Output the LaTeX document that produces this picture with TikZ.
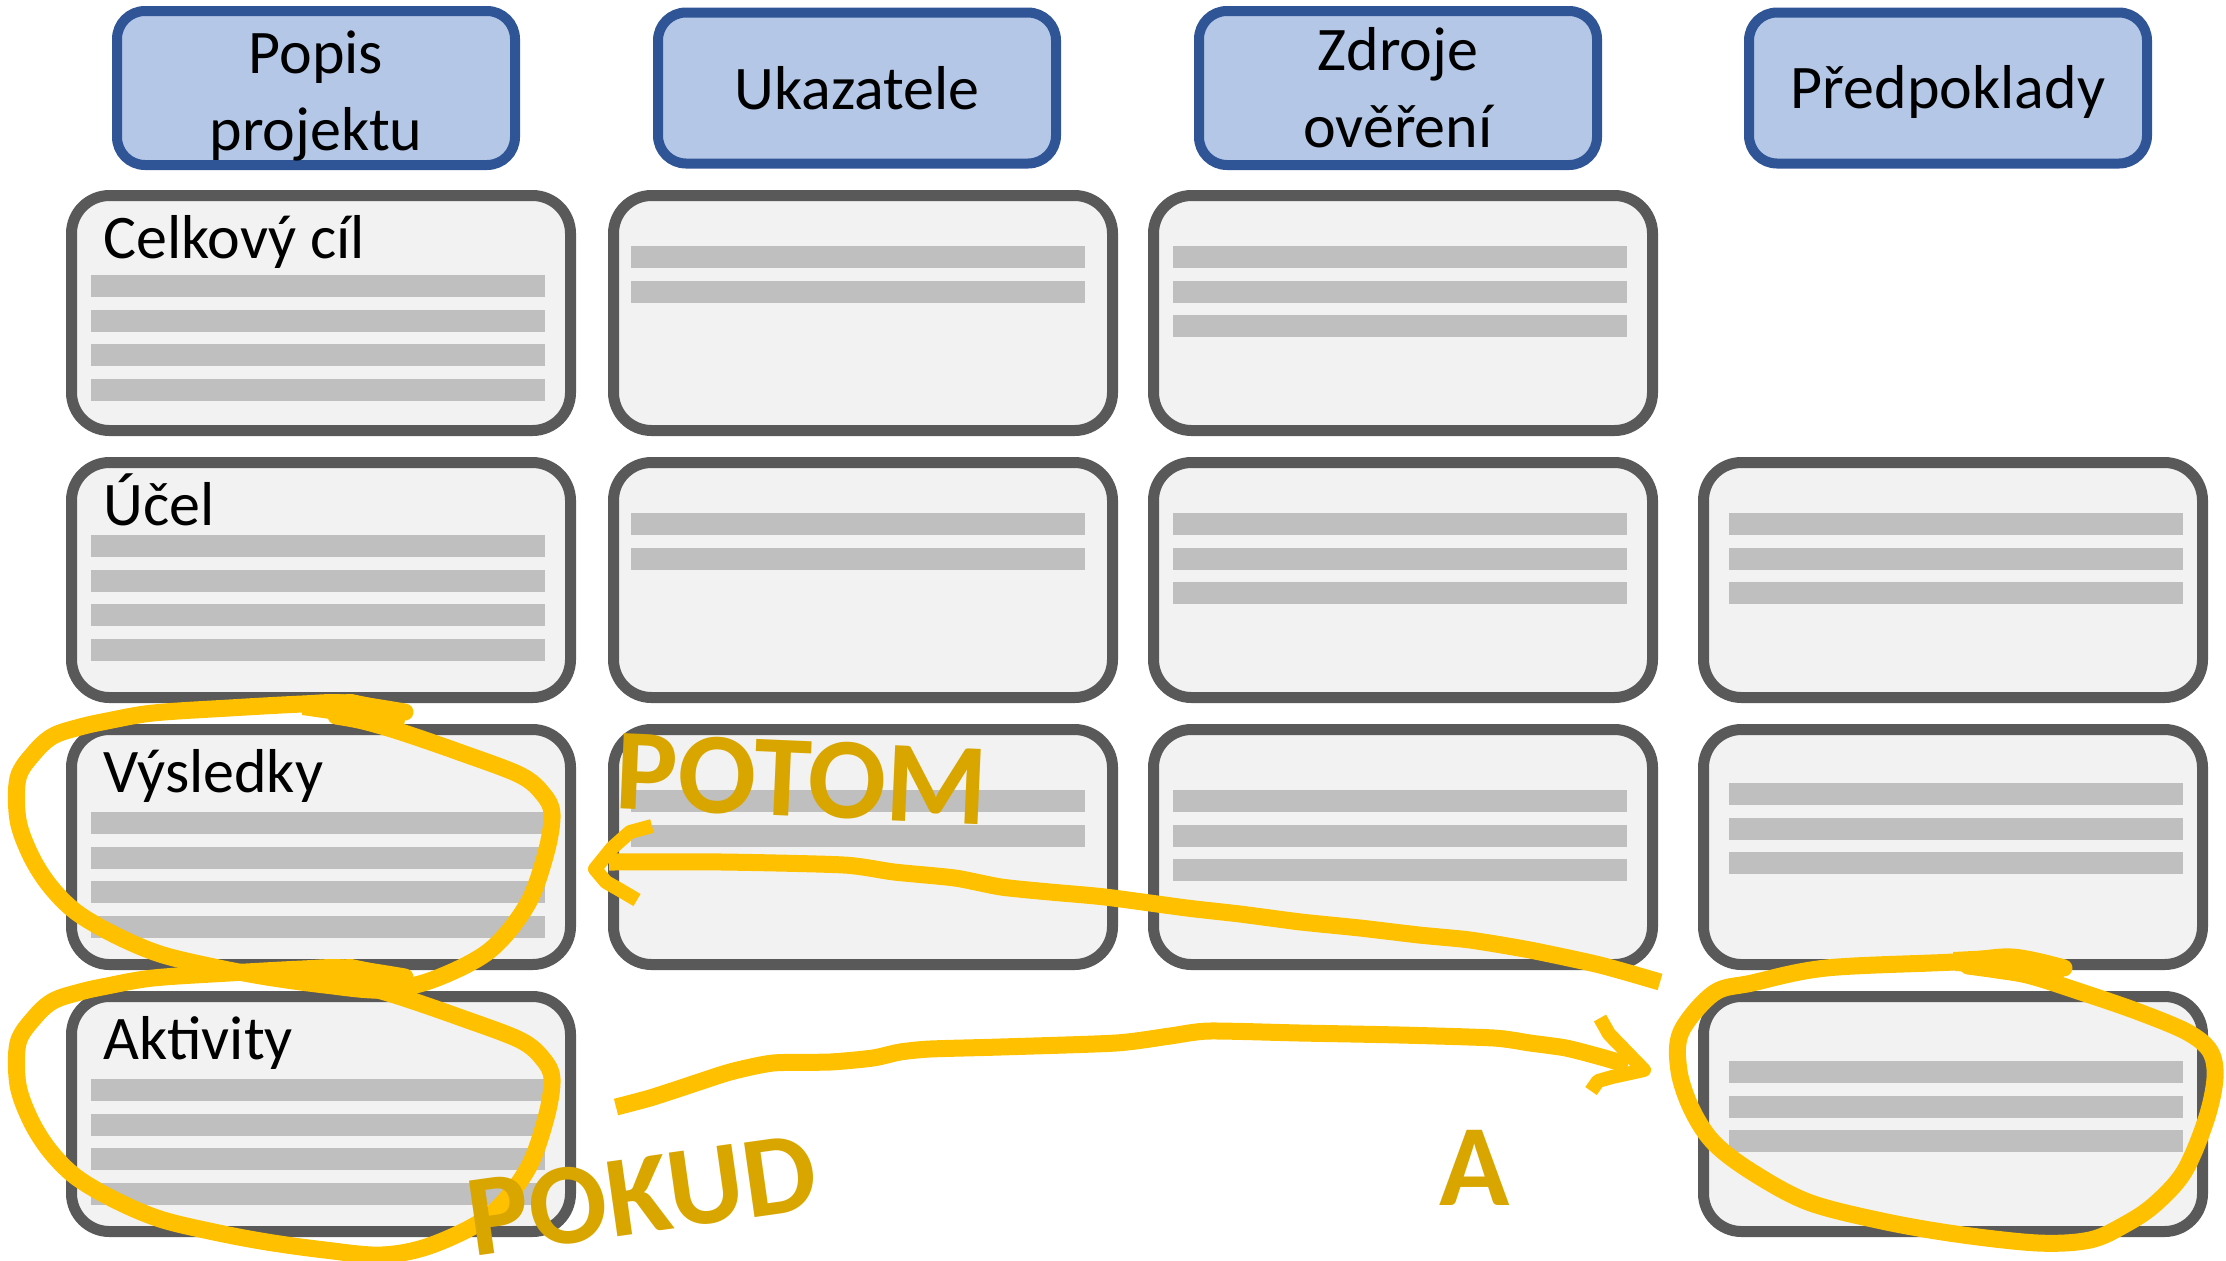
\documentclass[tikz,border=0pt]{standalone}
\usepackage{fontspec}
\setmainfont{Carlito}

\definecolor{hdrfill}{HTML}{B4C7E7}
\definecolor{hdrline}{HTML}{2F5597}
\definecolor{cellfill}{HTML}{F2F2F2}
\definecolor{cellline}{HTML}{595959}
\definecolor{barfill}{HTML}{BFBFBF}
\definecolor{marker}{HTML}{FFC000}
\definecolor{inktext}{HTML}{D9A600}

% a column of grey placeholder bars: left x, top y of first bar, count
\newcommand\barset[3]{\foreach \k in {1,...,#3}{\fill[bar] (#1,{#2+(\k-1)*34.5}) rectangle ++(454,22);}}
% header text, lowered by #1 without changing the box it occupies
\newcommand\hdrlabel[2]{\raisebox{-#1}[\height][\depth]{\begin{tabular}{@{}c@{}}#2\end{tabular}}}

\begin{document}
\begin{tikzpicture}[x=0.5pt,y=-0.5pt,
  hdr/.style={draw=hdrline, fill=hdrfill, line width=5pt, rounded corners=14pt,
    minimum width=199pt, minimum height=75.5pt, inner sep=0pt,
    font=\fontsize{31}{38.5}\selectfont},
  cell/.style={draw=cellline, fill=cellfill, line width=5.5pt, rounded corners=19pt,
    minimum width=249.5pt, minimum height=117.5pt, inner sep=0pt},
  bar/.style={fill=barfill},
  rowlabel/.style={anchor=base west, inner sep=0pt, font=\fontsize{31}{38}\selectfont},
  ink/.style={draw=marker, line width=8.5pt, line cap=round, line join=round},
  inkhead/.style={draw=marker, line width=7pt, line cap=butt, line join=round},
  inkword/.style={text=inktext, inner sep=0pt, font=\fontsize{58}{60}\selectfont\bfseries}]

\useasboundingbox (0,0) rectangle (2226,1260);

% column headers
\node[hdr] (h1) at (316,88) {\hdrlabel{4.5pt}{Popis\\projektu}};
\node[hdr] (h2) at (857,88) {\hdrlabel{3pt}{Ukazatele}};
\node[hdr] (h3) at (1398,88) {\hdrlabel{3pt}{Zdroje\\ověření}};
\node[hdr] (h4) at (1948,88) {\hdrlabel{2.7pt}{Předpoklady}};

% matrix cells (columns 1-4, rows 1-4)
\node[cell] (c11) at (321,313) {};
\node[cell] (c21) at (863,313) {};
\node[cell] (c31) at (1403,313) {};
\node[cell] (c12) at (321,580) {};
\node[cell] (c22) at (863,580) {};
\node[cell] (c32) at (1403,580) {};
\node[cell] (c42) at (1953,580) {};
\node[cell] (c13) at (321,847) {};
\node[cell] (c23) at (863,847) {};
\node[cell] (c33) at (1403,847) {};
\node[cell] (c43) at (1953,847) {};
\node[cell] (c14) at (321,1114) {};
\node[cell] (c44) at (1953,1114) {};

% row titles
\node[rowlabel] (t1) at (103,258) {Celkový cíl};
\node[rowlabel] (t2) at (103,525) {Účel};
\node[rowlabel] (t3) at (103,792) {Výsledky};
\node[rowlabel] (t4) at (103,1059) {Aktivity};

% placeholder text bars
\barset{91}{275}{4}
\barset{631}{246}{2}
\barset{1173}{246}{3}
\barset{91}{535}{4}
\barset{631}{513}{2}
\barset{1173}{513}{3}
\barset{1729}{513}{3}
\barset{91}{812}{4}
\barset{631}{790}{2}
\barset{1173}{790}{3}
\barset{1729}{783}{3}
\barset{91}{1079}{4}
\barset{1729}{1061}{3}

% marker loops around Výsledky and Aktivity
\foreach \dy in {0,265}{
\begin{scope}[shift={(0,\dy)}]
  \draw[ink] plot[smooth, tension=0.55] coordinates {
    (405,712) (344,703) (302,704) (229,708) (153,713) (107,721) (80,727)
    (53,736) (34,753) (18,778) (18,820) (31,856) (50,886) (76,912) (115,935)
    (160,954) (214,967) (267,977) (325,985) (382,990) (432,980) (489,951)
    (527,905) (546,853) (552,814) (543,794) (520,775) (459,752) (401,732)
    (363,721) (336,716)};
  \fill[marker] (302,696) -- (352,694) -- (408,706) -- (404,725) -- (344,721) -- (302,715) -- cycle;
\end{scope}}

% marker loop around the last assumption
\draw[ink] plot[smooth, tension=0.55] coordinates {
  (2064,968) (2012,957) (1953,962) (1826,968) (1752,983) (1714,993) (1681,1032)
  (1679,1071) (1692,1110) (1714,1143) (1752,1172) (1808,1202) (1882,1221)
  (1956,1234) (2038,1243) (2090,1240) (2124,1225) (2154,1205) (2184,1172)
  (2206,1120) (2215,1078) (2210,1051) (2187,1032) (2139,1012) (2087,994)
  (2031,976) (1997,970) (1968,966)};
\fill[marker] (1953,952) -- (2012,949) -- (2067,960) -- (2063,980) -- (2005,974) -- (1955,971) -- cycle;

% arrow back to the results
\draw[ink, line cap=butt] plot[smooth, tension=0.4] coordinates {
  (1660,982) (1600,965) (1530,950) (1470,940) (1419,935) (1360,928) (1301,922)
  (1240,914) (1187,908) (1105,897) (1050,892) (1001,887) (955,878) (894,872)
  (844,865) (723,862) (609,862)};
\draw[inkhead] (652,826) -- (630,832) -- (612,848) -- (595,869) -- (606,882) -- (620,890) -- (637,900);

% arrow from the activities to the assumption
\draw[ink, line cap=butt] plot[smooth, tension=0.4] coordinates {
  (616,1107) (650,1098) (687,1086) (730,1072) (773,1063) (830,1062) (873,1058)
  (900,1052) (930,1049) (1000,1047) (1116,1043) (1170,1036) (1209,1031)
  (1300,1033) (1400,1035) (1494,1038) (1530,1043) (1566,1048) (1601,1057)
  (1628,1065)};
\draw[inkhead] (1600,1018) -- (1609,1034) -- (1644,1070) -- (1612,1077) -- (1598,1081) -- (1591,1091);

% handwritten words
\node[inkword, rotate=-2.5] (potom) at (802,779) {POTOM};
\node[inkword, rotate=8] (pokud) at (642,1195) {POKUD};
\node[inkword] (wa) at (1475,1168) {A};

\end{tikzpicture}
\end{document}
